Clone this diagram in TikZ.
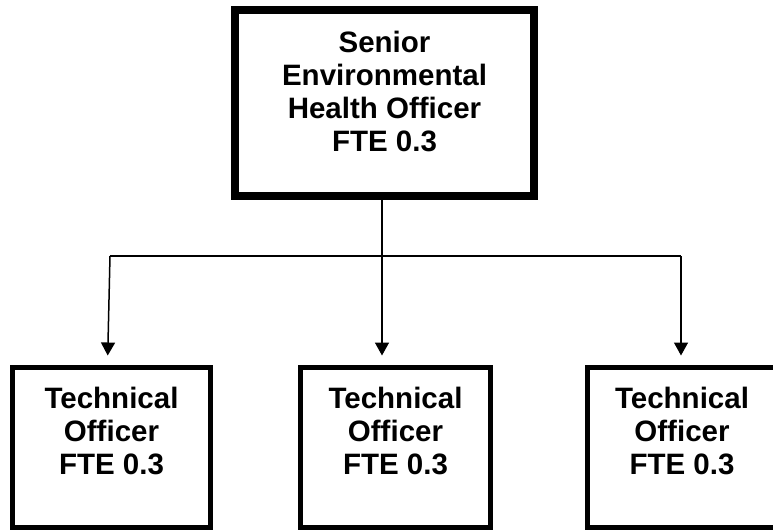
\documentclass[tikz,border=0pt]{standalone}
\usepackage{fontspec}
\setmainfont{Liberation Sans}
\usetikzlibrary{positioning,arrows.meta,calc}
\tikzset{
  orgfont/.style={font=\bfseries\fontsize{29.5}{33}\selectfont},
  seniorbox/.style={draw=black, line width=8pt, inner xsep=0pt, inner ysep=21pt, orgfont},
  techbox/.style={draw=black, line width=5pt, inner xsep=0pt, inner ysep=20pt, orgfont},
  link/.style={draw=black, line width=1.5pt},
  arrowlink/.style={link, -{Triangle[length=13pt,width=14pt]}, shorten >=9.5pt}
}
\newcommand{\boxtext}[3]{\parbox[t][#2][t]{#1}{\centering #3}}

\begin{document}
\begin{tikzpicture}[x=1pt,y=-1pt]
  \useasboundingbox (0,0) rectangle (773,531);
  \node[seniorbox] (senior) at (384.5,103)
    {\boxtext{299pt}{144pt}{Senior\\Environmental\\Health Officer\\FTE 0.3}};
  \node[techbox] (tech1) at (111.5,447.5) {\boxtext{198pt}{120pt}{Technical\\Officer\\FTE 0.3}};
  \node[techbox] (tech2) at (395.5,447.5) {\boxtext{190pt}{120pt}{Technical\\Officer\\FTE 0.3}};
  \node[techbox] (tech3) at (682,447.5) {\boxtext{189pt}{120pt}{Technical\\Officer\\FTE 0.3}};
  % branch points
  \coordinate (split) at (382,256);
  \coordinate (leftend) at (110,256);
  \coordinate (rightend) at (681,256);
  \draw[link] (split |- senior.south) -- (split);
  \draw[link] (leftend) -- (rightend);
  \draw[arrowlink] (leftend) -- ([xshift=-4pt]tech1.north);
  \draw[arrowlink] (split) -- (split |- tech2.north);
  \draw[arrowlink] (rightend) -- (rightend |- tech3.north);
\end{tikzpicture}
\end{document}
